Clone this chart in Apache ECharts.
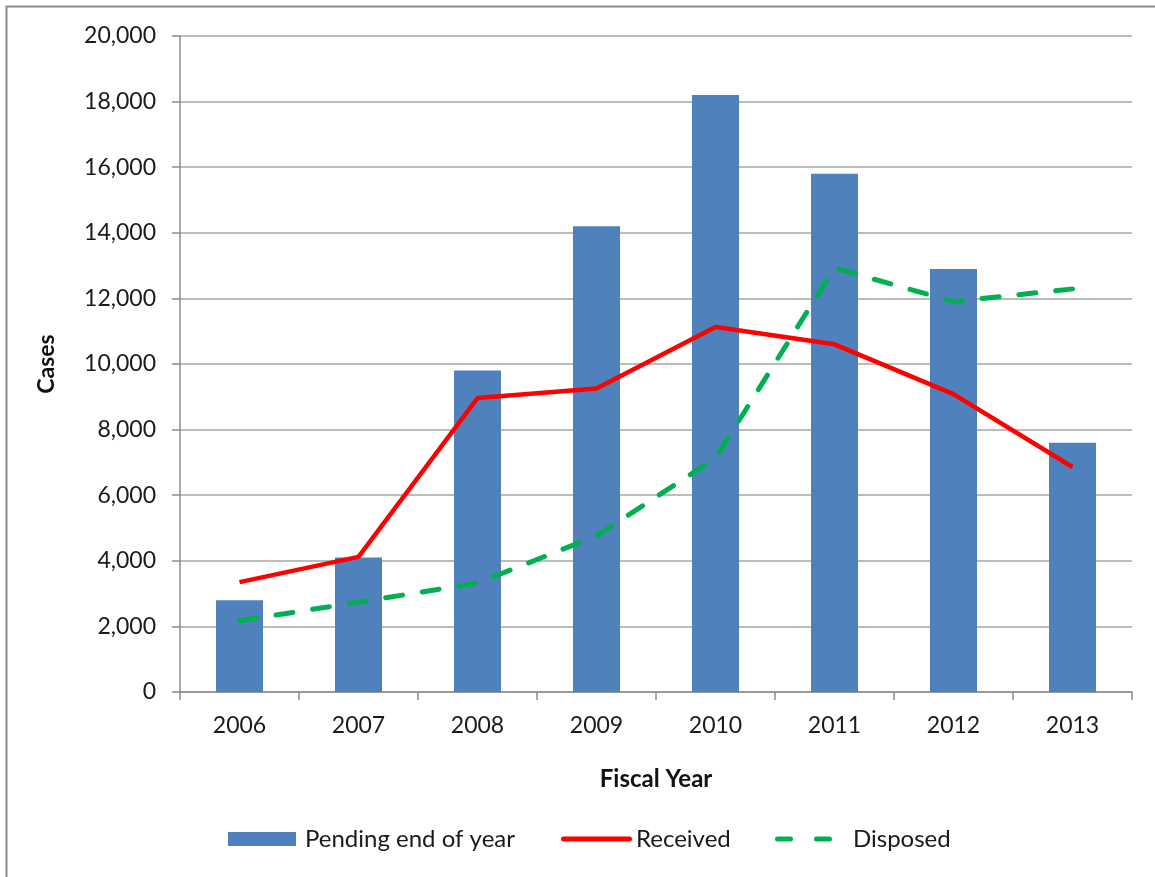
<!DOCTYPE html>
<html lang="en">
<head>
    <meta charset="UTF-8">
    <title>Cases by Fiscal Year</title>
    <script src="https://cdn.jsdelivr.net/npm/echarts@6/dist/echarts.min.js"></script>
    <style>
        html, body { margin: 0; padding: 0; background: #fff; }
        #chart { width: 1155px; height: 877px; }
    </style>
</head>
<body>
<div id="chart"></div>
<script>
    // data
    var years = ['2006', '2007', '2008', '2009', '2010', '2011', '2012', '2013'];
    var pending = [2800, 4100, 9800, 14200, 18200, 15800, 12900, 7600];
    var received = [3350, 4120, 8960, 9250, 11130, 10600, 9080, 6860];
    var disposed = [2170, 2740, 3320, 4760, 7130, 12930, 11900, 12290];
    var yTicks = [0, 2000, 4000, 6000, 8000, 10000, 12000, 14000, 16000, 18000, 20000];

    var font = 'Lato, "Open Sans", sans-serif';
    var chart = echarts.init(document.getElementById('chart'));

    // one legend per entry so each can sit where the original has it
    function legendAt(name, icon, left, w, h, gap) {
        return {
            data: [{ name: name, icon: icon }],
            left: left,
            top: 822,
            itemWidth: w,
            itemHeight: h,
            textStyle: {
                fontFamily: font, fontSize: 24, color: '#1a1a1a',
                padding: [0, 0, 0, gap]
            }
        };
    }

    var solidIcon = 'path://M2.5,0H68.5A2.5,2.5,0,0,1,68.5,5H2.5A2.5,2.5,0,0,1,2.5,0Z';
    var dashIcon = 'path://M2.5,0H15.5A2.5,2.5,0,0,1,15.5,5H2.5A2.5,2.5,0,0,1,2.5,0Z' +
        'M41.5,0H54.5A2.5,2.5,0,0,1,54.5,5H41.5A2.5,2.5,0,0,1,41.5,0Z';

    var option = {
        backgroundColor: '#fff',
        animation: false,
        graphic: [{
            type: 'rect',
            shape: { x: 6.5, y: 6.5, width: 1200, height: 1000 },
            style: { fill: 'none', stroke: '#8c8c8c', lineWidth: 2 }
        }],
        legend: [
            legendAt('Pending end of year', 'rect', 223, 68, 14, 4),
            legendAt('Received', solidIcon, 556, 71, 14, -1),
            legendAt('Disposed', dashIcon, 770, 57, 14, 16)
        ],
        grid: { left: 180, top: 36, right: 23, bottom: 185 },
        xAxis: {
            type: 'category',
            data: years,
            name: 'Fiscal Year',
            nameLocation: 'middle',
            nameGap: 75,
            nameTextStyle: { fontFamily: font, fontSize: 24, fontWeight: 'bold', color: '#111' },
            axisLine: { lineStyle: { color: '#8c8c8c', width: 1.5 } },
            axisTick: { show: true, length: 8, lineStyle: { color: '#8c8c8c', width: 1.5 } },
            axisLabel: { fontFamily: font, fontSize: 23, color: '#1a1a1a', margin: 22 }
        },
        yAxis: {
            type: 'value',
            min: yTicks[0],
            max: yTicks[yTicks.length - 1],
            interval: 2000,
            name: 'Cases',
            nameLocation: 'middle',
            nameRotate: 90,
            nameGap: 122,
            nameTextStyle: { fontFamily: font, fontSize: 23, fontWeight: 'bold', color: '#111' },
            axisLine: { show: true, lineStyle: { color: '#8c8c8c', width: 1.5 } },
            axisTick: { show: true, length: 8, lineStyle: { color: '#8c8c8c', width: 1.5 } },
            axisLabel: {
                fontFamily: font, fontSize: 23, color: '#1a1a1a', margin: 24,
                formatter: function (v) { return v.toLocaleString('en-US'); }
            },
            splitLine: { lineStyle: { color: '#a6a6a6', width: 1.5 } }
        },
        series: [
            {
                name: 'Pending end of year',
                type: 'bar',
                data: pending,
                barWidth: 47,
                itemStyle: { color: '#4f81bd' }
            },
            {
                name: 'Received',
                type: 'line',
                data: received,
                symbol: 'none',
                lineStyle: { color: '#ff0000', width: 4.5 },
                itemStyle: { color: '#ff0000' }
            },
            {
                name: 'Disposed',
                type: 'line',
                data: disposed,
                symbol: 'none',
                lineStyle: { color: '#00b050', width: 5, type: [17, 20], cap: 'round' },
                itemStyle: { color: '#00b050' }
            }
        ]
    };
    chart.setOption(option);
</script>
</body>
</html>
